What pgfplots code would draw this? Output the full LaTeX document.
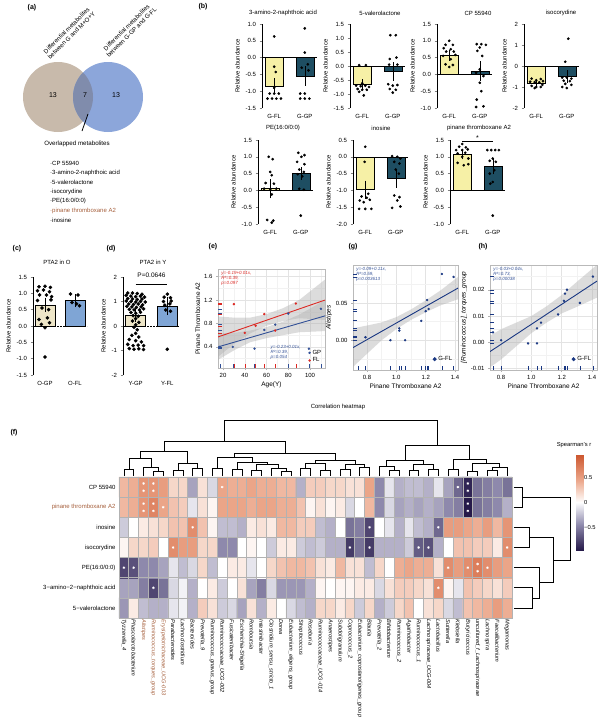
\documentclass[border=0pt]{standalone}
\usepackage{fontspec}
\setmainfont{Liberation Sans}
\usepackage{pgfplots}
\pgfplotsset{compat=1.18}
\definecolor{byel}{RGB}{246,240,166}
\definecolor{bteal}{RGB}{30,78,98}
\definecolor{cbeige}{RGB}{238,230,200}
\definecolor{cblue}{RGB}{127,165,213}
\definecolor{vtan}{RGB}{200,186,171}
\definecolor{vblue}{RGB}{140,166,218}
\definecolor{vmid}{RGB}{128,140,172}
\definecolor{brn}{RGB}{165,95,60}
\definecolor{ered}{RGB}{220,40,35}
\definecolor{eblue}{RGB}{50,80,150}
\definecolor{gnavy}{RGB}{25,55,130}
\tikzset{ann/.style={font=\fontsize{4.5}{5.2}\selectfont\itshape, align=left, inner sep=0pt}}
\pgfplotsset{
 colormap={spear}{rgb255(0cm)=(38,26,74); rgb255(5cm)=(142,137,172); rgb255(9.5cm)=(255,255,255); rgb255(13.8cm)=(236,168,140); rgb255(18.9cm)=(205,88,48)},
 /pgf/number format/assume math mode=true,
 every axis/.append style={font=\fontsize{6}{7}\selectfont},
 f1/.style={/pgf/number format/fixed, /pgf/number format/fixed zerofill, /pgf/number format/precision=1},
 f2/.style={/pgf/number format/fixed, /pgf/number format/fixed zerofill, /pgf/number format/precision=2},
 f0/.style={/pgf/number format/fixed, /pgf/number format/precision=0},
 bbar/.style={scale only axis, width=55pt, height=84pt, xmin=-0.4, xmax=1.4,
   axis x line*=bottom, axis y line*=left, x axis line style={draw=none},
   y axis line style={line width=0.6pt},
   xtick={0,1}, major x tick style={draw=none},
   major y tick style={line width=0.5pt}, tick align=outside, major tick length=2.5pt,
   ylabel={Relative abundance}, ylabel style={yshift=-1pt},
   scaled y ticks=false, yticklabel style={/pgfplots/f1},
   clip=false},
 bfl/.style={ybar, bar width=18pt, fill=byel, draw=black, line width=0.5pt},
 bgp/.style={ybar, bar width=18pt, fill=bteal, draw=black, line width=0.5pt},
 zl/.style={black, line width=0.6pt, forget plot},
 eb/.style={draw=none, mark=none, forget plot, error bars/y dir=both, error bars/y explicit,
   error bars/error bar style={draw=black, line width=0.5pt},
   error bars/error mark options={draw=black, mark size=3pt, line width=0.5pt}},
 dt/.style={only marks, mark=*, mark size=1.15pt, black},
 gg/.style={scale only axis, grid=both, major grid style={gray!22, line width=0.5pt},
   minor grid style={gray!10, line width=0.35pt}, axis line style={gray!55, line width=0.6pt},
   tick style={gray!60, line width=0.4pt}, tick align=outside, major tick length=2pt,
   minor tick length=0pt, xtick pos=bottom, ytick pos=left,
   scaled x ticks=false, scaled y ticks=false,
   label style={font=\fontsize{6.5}{7.5}\selectfont}, xlabel style={yshift=3pt}, ylabel style={yshift=-3pt},
   legend style={draw=none, fill=none, font=\fontsize{6}{7}\selectfont, inner sep=0.5pt, row sep=-2pt},
   legend cell align=left},
 band/.style={fill=gray!60, fill opacity=0.45, draw=none, forget plot},
 dg/.style={black, line width=0.6pt, forget plot},
}
\begin{document}
\begin{tikzpicture}[x=1pt,y=-1pt,font=\fontsize{6}{7}\selectfont]
\path[use as bounding box] (0,0) rectangle (600,720);

%% ---------------- (a) Venn ----------------
\node[font=\bfseries\fontsize{7}{8}\selectfont] at (32,8) {(a)};
\fill[vtan] (58,97) circle[radius=35pt];
\fill[vblue] (108,97) circle[radius=35pt];
\begin{scope}
\clip (58,97) circle[radius=35pt];
\fill[vmid] (108,97) circle[radius=35pt];
\end{scope}
\node[font=\fontsize{7}{8}\selectfont] at (53,95) {13};
\node[font=\fontsize{7}{8}\selectfont] at (85,95) {7};
\node[font=\fontsize{7}{8}\selectfont] at (116,95) {13};
\node[rotate=45, align=center, font=\fontsize{6.1}{6.9}\selectfont, inner sep=0pt] at (69,33) {Differential metabolites\\between G and M+O+Y};
\node[rotate=45, align=center, font=\fontsize{6.1}{6.9}\selectfont, inner sep=0pt] at (129,30) {Differential metabolites\\between G-GP and G-FL};
\draw[line width=0.8pt] (88,114) -- (82,131);
\node[font=\fontsize{6.2}{7}\selectfont] at (77,144) {Overlapped metabolites};
\begin{scope}[every node/.style={anchor=west, font=\fontsize{6}{7}\selectfont, inner sep=0pt}]
\node at (50,163) {·CP 55940};
\node at (50,172.5) {·3-amino-2-naphthoic acid};
\node at (50,182) {·5-valerolactone};
\node at (50,191.5) {·isocorydine};
\node at (50,201) {·PE(16:0/0:0)};
\node[text=brn] at (50,210.5) {·pinane thromboxane A2};
\node at (50,220) {·inosine};
\end{scope}

%% ---------------- labels & titles ----------------
\begin{scope}[every node/.style={font=\bfseries\fontsize{7}{8}\selectfont}]
\node at (203,7) {(b)};
\node at (17,249) {(c)};
\node at (111,249) {(d)};
\node at (213,247) {(e)};
\node at (353,247) {(g)};
\node at (483,247) {(h)};
\node at (14,433) {(f)};
\end{scope}
\node at (283,13) {3-amino-2-naphthoic acid};
\node at (380,13) {5-valerolactone};
\node at (478,13) {CP 55940};
\node at (561,13) {isocorydine};
\node at (283,128) {PE(16:0/0:0)};
\node at (381,128) {inosine};
\node at (479,128) {pinane thromboxane A2};
\node at (57,262) {PTA2 in O};
\node at (153,262) {PTA2 in Y};
\node at (338,407) {Correlation heatmap};
\node[font=\fontsize{5.8}{6.5}\selectfont] at (574,445) {Spearman's r};

%% ---------------- (b) bar panels ----------------
\begin{axis}[bbar, at={(262pt,-24pt)}, anchor=north west, ymin=-1.5, ymax=1,
  ytick={-1.5,-1,-0.5,0,0.5,1}, xticklabels={G-FL,G-GP}]
\addplot[bfl] coordinates {(0,-0.85)};
\addplot[bgp] coordinates {(1,-0.55)};
\addplot[zl] coordinates {(-0.4,0) (1.4,0)};
\addplot[eb] coordinates {(0,-0.85) +- (0,0.15) (1,-0.55) +- (0,0.2)};
\addplot[dt] coordinates {(0,0.63) (0,-0.27) (0.05,-0.43) (-0.15,-1.07) (0,-1.07) (0.15,-1.07) (-0.22,-1.22) (-0.07,-1.22) (0.07,-1.22) (0.22,-1.22) (0,-0.9)
 (1,0.87) (1,0.15) (1.1,-0.2) (0.9,-0.3) (1.12,-0.38) (0.85,-1.07) (1.0,-1.07) (0.85,-1.22) (1.0,-1.22) (1.15,-1.22)};
\end{axis}

\begin{axis}[bbar, at={(350pt,-24pt)}, anchor=north west, ymin=-1.5, ymax=1.5,
  ytick={-1.5,-1,-0.5,0,0.5,1,1.5}, xticklabels={G-FL,G-GP}]
\addplot[bfl] coordinates {(0,-0.65)};
\addplot[bgp] coordinates {(1,-0.2)};
\addplot[zl] coordinates {(-0.4,0) (1.4,0)};
\addplot[eb] coordinates {(0,-0.65) +- (0,0.07) (1,-0.2) +- (0,0.22)};
\addplot[dt] coordinates {(-0.1,0.03) (0.12,0.03) (0,-0.62) (-0.2,-0.7) (-0.05,-0.72) (0.1,-0.7) (0.22,-0.75) (-0.15,-0.82) (0,-0.85) (0.15,-0.85) (-0.1,-0.92) (0.05,-1.05)
 (0.92,1.1) (1.1,1.1) (0.9,0.25) (1.12,0.3) (0.88,0.05) (1.15,0.05) (0.85,-0.65) (1.0,-0.7) (1.15,-0.68) (0.9,-0.82) (1.1,-0.85) (1.0,-0.95)};
\end{axis}

\begin{axis}[bbar, at={(437pt,-24pt)}, anchor=north west, ymin=-1, ymax=1.5,
  ytick={-1,-0.5,0,0.5,1,1.5}, xticklabels={G-FL,G-GP}]
\addplot[bfl] coordinates {(0,0.57)};
\addplot[bgp] coordinates {(1,0.1)};
\addplot[zl] coordinates {(-0.4,0) (1.4,0)};
\addplot[eb] coordinates {(0,0.57) +- (0,0.07) (1,0.1) +- (0,0.2)};
\addplot[dt] coordinates {(0,1.0) (-0.12,0.88) (0.12,0.88) (-0.18,0.78) (0.05,0.75) (-0.1,0.68) (0.15,0.68) (0.2,0.58) (-0.2,0.55) (0.05,0.45) (-0.12,0.3) (0.12,0.28) (0,0.22)
 (0.9,0.9) (1.05,0.9) (1.2,0.88) (1.0,0.8) (0.92,0.7) (1.08,0.55) (1.0,0.15) (0.88,0.05) (1.12,-0.05) (1.0,-0.25) (1.05,-0.5) (0.9,-0.75) (0.88,-0.97) (1.12,-0.95)};
\end{axis}

\begin{axis}[bbar, at={(524pt,-24pt)}, anchor=north west, ymin=-2, ymax=2,
  ytick={-2,-1,0,1,2}, yticklabel style={/pgfplots/f0}, xticklabels={G-FL,G-GP}]
\addplot[bfl] coordinates {(0,-0.8)};
\addplot[bgp] coordinates {(1,-0.5)};
\addplot[zl] coordinates {(-0.4,0) (1.4,0)};
\addplot[eb] coordinates {(0,-0.8) +- (0,0.05) (1,-0.5) +- (0,0.15)};
\addplot[dt] coordinates {(-0.15,-0.6) (0.15,-0.62) (0,-0.68) (-0.2,-0.75) (-0.05,-0.77) (0.1,-0.78) (0.22,-0.72) (-0.15,-0.95) (0,-1.0) (0.15,-1.0) (-0.05,-1.05) (0.2,-0.9)
 (1.05,1.3) (0.95,0.2) (0.85,-0.55) (1.0,-0.55) (1.15,-0.6) (0.9,-0.7) (1.1,-0.72) (0.95,-0.85) (1.15,-0.9) (0.85,-1.0) (1.0,-1.05)};
\end{axis}

\begin{axis}[bbar, at={(258pt,-140pt)}, anchor=north west, ymin=-1, ymax=1.5,
  ytick={-1,-0.5,0,0.5,1,1.5}, xticklabels={G-FL,G-GP}]
\addplot[bfl] coordinates {(0,0.05)};
\addplot[bgp] coordinates {(1,0.5)};
\addplot[zl] coordinates {(-0.4,0) (1.4,0)};
\addplot[eb] coordinates {(0,0.05) +- (0,0.2) (1,0.5) +- (0,0.1)};
\addplot[dt] coordinates {(-0.05,1.0) (0.08,0.93) (0,0.55) (0.05,0.45) (-0.15,0.22) (0.12,0.2) (-0.2,0.05) (0.2,0.05) (0,0.02) (0.05,-0.12) (-0.1,-0.88) (0.1,-0.9) (0.05,-0.96)
 (0.92,1.12) (1.12,1.05) (1.02,1.0) (0.88,0.85) (1.12,0.78) (0.95,0.62) (1.1,0.55) (0.9,0.48) (1.05,0.42) (0.95,0.05) (1.1,0.02) (1.0,-0.75)};
\end{axis}

\begin{axis}[bbar, at={(353pt,-140pt)}, anchor=north west, ymin=-2, ymax=0.5,
  ytick={-2,-1.5,-1,-0.5,0,0.5}, xticklabels={G-FL,G-GP}]
\addplot[bfl] coordinates {(0,-0.98)};
\addplot[bgp] coordinates {(1,-0.65)};
\addplot[zl] coordinates {(-0.4,0) (1.4,0)};
\addplot[eb] coordinates {(0,-0.98) +- (0,0.18) (1,-0.65) +- (0,0.18)};
\addplot[dt] coordinates {(0,0.3) (-0.02,-0.15) (0.1,-1.1) (-0.12,-1.18) (0.05,-1.22) (-0.18,-1.3) (0.15,-1.28) (-0.05,-1.35) (-0.2,-1.55) (0,-1.55) (0.2,-1.55)
 (0.88,0.02) (1.05,0.0) (1.15,-0.05) (0.95,-0.15) (1.12,-0.2) (1.0,-0.38) (1.1,-0.5) (0.95,-1.15) (1.12,-1.2) (1.05,-1.3) (0.88,-1.52) (1.15,-1.48)};
\end{axis}

\begin{axis}[bbar, at={(450pt,-140pt)}, anchor=north west, ymin=-1, ymax=1.5,
  ytick={-1,-0.5,0,0.5,1,1.5}, xticklabels={G-FL,G-GP}]
\addplot[bfl] coordinates {(0,1.08)};
\addplot[bgp] coordinates {(1,0.72)};
\addplot[zl] coordinates {(-0.4,0) (1.4,0)};
\addplot[eb] coordinates {(0,1.08) +- (0,0.07) (1,0.72) +- (0,0.15)};
\addplot[dt] coordinates {(0,1.38) (-0.1,1.3) (0.12,1.28) (-0.2,1.2) (0,1.2) (0.18,1.22) (-0.15,1.1) (0.1,1.12) (0,1.0) (0.2,0.95) (-0.15,0.82) (0.05,0.75) (0.2,0.78)
 (0.82,1.2) (0.95,1.2) (1.08,1.2) (1.2,1.2) (1.0,0.95) (0.9,0.88) (1.1,0.85) (1.05,0.6) (0.9,0.5) (1.0,0.25) (0.92,0.2) (1.0,-0.75)};
\addplot[black, line width=0.5pt, forget plot] coordinates {(0,1.46) (1,1.46)};
\node[font=\fontsize{7}{8}\selectfont, inner sep=0pt] at (axis cs:0.5,1.56) {*};
\end{axis}

%% ---------------- (c) ----------------
\begin{axis}[bbar, at={(33pt,-277pt)}, anchor=north west, width=54pt, height=98pt, ymin=-1.5, ymax=1.5,
  ytick={-1.5,-1,-0.5,0,0.5,1,1.5}, xticklabels={O-GP,O-FL}]
\addplot[ybar, bar width=20pt, fill=cbeige, draw=black, line width=0.5pt] coordinates {(0,0.65)};
\addplot[ybar, bar width=20pt, fill=cblue, draw=black, line width=0.5pt] coordinates {(1,0.78)};
\addplot[black, line width=0.6pt, dash pattern=on 1.5pt off 1.5pt, forget plot] coordinates {(-0.4,0) (1.4,0)};
\addplot[eb] coordinates {(0,0.65) +- (0,0.13) (1,0.78) +- (0,0.11)};
\addplot[dt, mark size=1.6pt] coordinates {(-0.2,1.2) (0.0,1.22) (0.18,1.18) (-0.25,1.08) (-0.05,1.1) (0.15,1.05) (-0.18,0.95) (0.05,0.95) (0.22,0.9) (-0.25,0.78) (0.2,0.8) (-0.1,0.55) (0.12,0.5) (-0.2,0.2) (0.08,0.25) (-0.12,0.05) (0.15,0.1) (0,-0.05) (0,-0.95)
 (0.85,0.98) (1.1,0.95) (0.9,0.72) (1.05,0.68) (1.15,0.62)};
\end{axis}

%% ---------------- (d) ----------------
\begin{axis}[bbar, at={(123pt,-277pt)}, anchor=north west, width=57pt, height=98pt, ymin=-2, ymax=2,
  ytick={-2,-1,0,1,2}, yticklabel style={/pgfplots/f0}, xticklabels={Y-GP,Y-FL}]
\addplot[ybar, bar width=20pt, fill=cbeige, draw=black, line width=0.5pt] coordinates {(0,0.45)};
\addplot[ybar, bar width=20pt, fill=cblue, draw=black, line width=0.5pt] coordinates {(1,0.82)};
\addplot[black, line width=0.6pt, dash pattern=on 1.5pt off 1.5pt, forget plot] coordinates {(-0.4,0) (1.4,0)};
\addplot[dt, mark size=1.6pt] coordinates {(-0.25,1.35) (-0.1,1.35) (0.05,1.33) (0.2,1.3)
 (-0.3,1.25) (-0.15,1.22) (0,1.2) (0.15,1.22) (0.28,1.18)
 (-0.25,1.12) (-0.1,1.1) (0.05,1.08) (0.2,1.1)
 (-0.3,1.02) (-0.15,1.0) (0,0.98) (0.15,1.0) (0.3,0.98)
 (-0.22,0.9) (-0.07,0.88) (0.08,0.9) (0.22,0.86)
 (-0.28,0.8) (-0.12,0.78) (0.02,0.76) (0.17,0.78)
 (-0.2,0.68) (-0.05,0.66) (0.12,0.65) (0.25,0.7)
 (-0.15,0.55) (0.0,0.52) (0.15,0.56) (-0.08,0.42) (0.08,0.4)
 (0,0.3) (-0.1,0.2) (0.1,0.15) (0,0.05) (-0.05,-0.05) (0.05,-0.15)
 (0,-0.3) (-0.12,-0.38) (0.1,-0.45) (-0.2,-0.55) (0,-0.6) (0.18,-0.65)
 (-0.25,-0.75) (-0.08,-0.8) (0.08,-0.78) (0.25,-0.8)
 (-0.2,-0.92) (-0.05,-0.95) (0.1,-0.93) (0.25,-0.96)
 (1,1.3) (0.9,1.18) (1.1,1.15) (0.88,1.0) (1.12,1.02) (0.92,0.85) (1.08,0.9) (0.95,0.65) (1.1,0.6) (1,-0.95)};
\addplot[eb] coordinates {(0,0.45) +- (0,0.15) (1,0.82) +- (0,0.25)};
\addplot[black, line width=0.5pt, forget plot] coordinates {(0,1.71) (1,1.71)};
\node[font=\fontsize{6.5}{7}\selectfont, anchor=south, inner sep=0.5pt] at (axis cs:0.5,1.93) {P=0.0646};
\end{axis}

%% ---------------- (e) ----------------
\begin{axis}[gg, at={(218pt,-269pt)}, anchor=north west, width=107pt, height=99pt,
  xmin=15.4, xmax=113.8, ymin=0.04, ymax=1.73,
  xtick={20,40,60,80,100}, minor xtick={30,50,70,90,110},
  ytick={0.4,0.8,1.2,1.6}, minor ytick={0.2,0.6,1.0,1.4},
  yticklabel style={/pgfplots/f1},
  xlabel={Age(Y)}, ylabel={Pinane Thromboxane A2},
  legend style={at={(0.99,0.02)}, anchor=south east}]
\addplot[band] coordinates {(15.4,0.92) (30,0.9) (45,0.9) (60,0.96) (75,1.06) (90,1.2) (113.8,1.55) (113.8,0.86) (90,0.89) (75,0.84) (60,0.76) (45,0.63) (30,0.45) (15.4,0.23)} -- cycle;
\addplot[band] coordinates {(15.4,0.63) (30,0.64) (45,0.68) (60,0.74) (75,0.83) (90,0.95) (113.8,1.2) (113.8,0.67) (90,0.65) (75,0.6) (60,0.55) (45,0.48) (30,0.34) (15.4,0.18)} -- cycle;
\addplot[ered, line width=0.9pt, forget plot] coordinates {(15.4,0.57) (113.8,1.2)};
\addplot[eblue, line width=0.9pt, forget plot] coordinates {(15.4,0.4) (113.8,0.93)};
\addplot[only marks, mark=|, mark size=2pt, ered, mark options={yshift=2pt}, forget plot] coordinates {(30,0.04) (40,0.04) (50,0.04) (58,0.04) (68,0.04) (87,0.04)};
\addplot[only marks, mark=|, mark size=2pt, eblue, mark options={yshift=2pt}, forget plot] coordinates {(17,0.04) (29,0.04) (49,0.04) (80,0.04) (99,0.04) (110,0.04)};
\addplot[only marks, mark=-, mark size=2pt, ered, mark options={xshift=2pt}, forget plot] coordinates {(15.4,1.13) (15.4,0.64) (15.4,0.76) (15.4,0.96) (15.4,0.68) (15.4,1.14)};
\addplot[only marks, mark=-, mark size=2pt, eblue, mark options={xshift=2pt}, forget plot] coordinates {(15.4,0.4) (15.4,0.37) (15.4,0.69) (15.4,0.78) (15.4,0.97) (15.4,1.05)};
\addplot[only marks, mark=*, mark size=1pt, eblue] coordinates {(17,0.4) (29,0.4) (49,0.37) (58,0.69) (68,0.78) (80,0.97) (99,0.37) (110,1.05)};
\addlegendentry{GP}
\addplot[only marks, mark=*, mark size=1pt, ered] coordinates {(30,1.13) (40,0.64) (50,0.76) (58,0.96) (68,0.68) (87,1.14)};
\addlegendentry{FL}
\node[ann, text=ered, anchor=north west] at (rel axis cs:0.03,0.98) {y=-0.19+0.01x,\\R²=0.39,\\p=0.097};
\node[ann, text=eblue, anchor=north west] at (rel axis cs:0.49,0.23) {y=-0.23+0.01x,\\R²=0.39,\\p=0.054};
\end{axis}

%% ---------------- (g) ----------------
\begin{axis}[gg, at={(353pt,-265pt)}, anchor=north west, width=105pt, height=105pt,
  xmin=0.705, xmax=1.42, ymin=-0.04, ymax=0.101,
  xtick={0.8,1.0,1.2,1.4}, minor xtick={0.7,0.9,1.1,1.3},
  ytick={0,0.05}, minor ytick={-0.025,0.025,0.075},
  xticklabel style={/pgfplots/f1}, yticklabel style={/pgfplots/f2},
  xlabel={Pinane Thromboxane A2}, ylabel={\itshape Alistipes},
  legend style={at={(0.97,0.05)}, anchor=south east}, legend image post style={mark size=1.8pt}]
\addplot[band] coordinates {(0.705,0.016) (0.8,0.0197) (0.9,0.0239) (1.0,0.031) (1.1,0.0413) (1.2,0.0535) (1.3,0.0667) (1.42,0.085) (1.42,0.055) (1.3,0.0467) (1.2,0.0375) (1.1,0.0273) (1.0,0.015) (0.9,-0.0001) (0.8,-0.0183) (0.705,-0.0359)} -- cycle;
\addplot[gnavy, line width=0.9pt, forget plot] coordinates {(0.705,-0.0099) (1.42,0.070)};
\addplot[only marks, mark=|, mark size=2pt, gnavy, mark options={yshift=2pt}, forget plot] coordinates {(0.79,-0.04) (0.96,-0.04) (1.02,-0.04) (1.03,-0.04) (1.06,-0.04) (1.17,-0.04) (1.20,-0.04) (1.21,-0.04) (1.22,-0.04) (1.31,-0.04) (1.39,-0.04) (0.74,-0.04)};
\addplot[only marks, mark=-, mark size=2pt, gnavy, mark options={xshift=2pt}, forget plot] coordinates {(0.705,0.004) (0.705,0.0) (0.705,0.016) (0.705,0.013) (0.705,0.027) (0.705,0.039) (0.705,0.054) (0.705,0.042) (0.705,0.089) (0.705,0.085) (0.705,0.006)};
\addplot[only marks, mark=*, mark size=1pt, gnavy] coordinates {(0.79,0.004) (0.96,0.0) (1.02,0.016) (1.02,0.013) (1.06,0.0) (1.17,0.026) (1.20,0.039) (1.21,0.054) (1.22,0.042) (1.31,0.089) (1.39,0.085)};
\addlegendentry{G-FL}
\node[ann, text=eblue, anchor=north west] at (rel axis cs:0.03,0.98) {y=-0.09+0.11x,\\R²=0.59,\\p=0.003613};
\end{axis}

%% ---------------- (h) ----------------
\begin{axis}[gg, at={(490pt,-265pt)}, anchor=north west, width=107pt, height=105pt,
  xmin=0.727, xmax=1.433, ymin=-0.0105, ymax=0.0294,
  xtick={0.8,1.0,1.2,1.4}, minor xtick={0.9,1.1,1.3},
  ytick={-0.01,0,0.01,0.02}, minor ytick={-0.005,0.005,0.015,0.025},
  xticklabel style={/pgfplots/f1}, yticklabel style={/pgfplots/f2},
  xlabel={Pinane Thromboxane A2}, ylabel={\itshape [Ruminococcus]\_torques\_group},
  legend style={at={(0.97,0.05)}, anchor=south east}, legend image post style={mark size=1.8pt}]
\addplot[band] coordinates {(0.727,0.0025) (0.8,0.005) (0.9,0.0075) (1.0,0.01) (1.1,0.0137) (1.2,0.018) (1.3,0.023) (1.433,0.0295) (1.433,0.017) (1.3,0.0135) (1.2,0.011) (1.1,0.0075) (1.0,0.0035) (0.9,-0.0015) (0.8,-0.0065) (0.727,-0.0095)} -- cycle;
\addplot[gnavy, line width=0.9pt, forget plot] coordinates {(0.727,-0.0035) (1.433,0.0233)};
\addplot[only marks, mark=|, mark size=2pt, gnavy, mark options={yshift=2pt}, forget plot] coordinates {(0.747,-0.0105) (0.8,-0.0105) (0.978,-0.0105) (1.037,-0.0105) (1.064,-0.0105) (1.176,-0.0105) (1.215,-0.0105) (1.222,-0.0105) (1.235,-0.0105) (1.32,-0.0105) (1.406,-0.0105)};
\addplot[only marks, mark=-, mark size=2pt, gnavy, mark options={xshift=2pt}, forget plot] coordinates {(0.727,0.0038) (0.727,0.0008) (0.727,-0.0004) (0.727,0.0053) (0.727,0.0075) (0.727,0.0106) (0.727,0.0158) (0.727,0.0185) (0.727,0.02) (0.727,0.015) (0.727,0.025)};
\addplot[only marks, mark=*, mark size=1pt, gnavy] coordinates {(0.747,0.0038) (0.8,0.0008) (0.978,-0.0004) (1.037,0.0053) (1.037,-0.0004) (1.064,0.0075) (1.176,0.0106) (1.215,0.0158) (1.222,0.0185) (1.235,0.02) (1.32,0.015) (1.406,0.025)};
\addlegendentry{G-FL}
\node[ann, text=eblue, anchor=north west] at (rel axis cs:0.03,0.98) {y=-0.03+0.04x,\\R²=0.73,\\p=0.00038};
\end{axis}

%% ---------------- (f) heatmap ----------------
\begin{axis}[at={(119pt,-477pt)}, anchor=north west, scale only axis, width=393pt, height=141pt,
  xmin=0.5, xmax=40.5, ymin=0.5, ymax=7.5, enlargelimits=false, clip=false,
  axis on top, axis line style={gray!60, line width=0.7pt},
  xtick={1,...,40}, ytick={1,...,7}, major tick length=0pt, tick style={draw=none},
  xtick pos=bottom, ytick pos=left,
  minor xtick={0.5,1.5,...,40.5}, minor ytick={0.5,1.5,...,7.5}, minor tick length=0pt,
  xminorgrids, yminorgrids, minor grid style={gray!60, line width=0.7pt},
  xticklabel style={rotate=-90, anchor=west, font=\fontsize{5.6}{6}\selectfont\itshape, inner sep=1.5pt},
  yticklabel style={font=\fontsize{6}{7}\selectfont},
  xticklabels={Tyzzerella\_4, Phascolarctobacterium, \textcolor{brn}{Alistipes}, \textcolor{brn}{Ruminococcus\_torques\_group}, \textcolor{brn}{Erysipelotrichaceae\_UCG-003}, Parabacteroides, Lachnoclostridium, Bacteroides, Prevotella\_9, Ruminococcus\_gnavus\_group, Ruminococcaceae\_UCG-002, Fusicatenibacter, Escherichia-Shigella, Romboutsia, Intestinibacter, Clostridium\_sensu\_stricto\_1, Dorea, Eubacterium\_eligens\_group, Streptococcus, Roseburia, Ruminococcaceae\_UCG-014, Anaerostipes, Subdoligranulum, Coprococcus\_2, Eubacterium\_coprostanoligenes\_group, Blautia, Prevotella\_2, Bifidobacterium, Ruminococcus\_2, Agathobacter, Ruminococcus\_1, Lachnospiraceae\_UCG-004, Lactobacillus, Sutterella, Klebsiella, Butyricicoccus, uncultured\_f\_Lachnospiraceae, Lachnospira, Faecalibacterium, Megamonas},
  yticklabels={5−valerolactone, 3−amino−2−naphthoic acid, PE(16:0/0:0), isocorydine, inosine, \textcolor{brn}{pinane thromboxane A2}, CP 55940},
  point meta min=-0.95, point meta max=0.94]
\addplot[matrix plot*, mesh/cols=40, point meta=explicit, forget plot] table[row sep=\\, meta=c] {
x y c\\
1 1 -0.4\\2 1 0.1\\3 1 -0.25\\4 1 -0.3\\5 1 -0.3\\6 1 -0.1\\7 1 -0.05\\8 1 -0.3\\9 1 0.25\\10 1 0.15\\
11 1 -0.2\\12 1 -0.15\\13 1 -0.35\\14 1 0.15\\15 1 -0.3\\16 1 0.1\\17 1 0\\18 1 -0.15\\19 1 -0.25\\20 1 -0.3\\
21 1 0.2\\22 1 0.2\\23 1 0.1\\24 1 0.2\\25 1 -0.2\\26 1 0.2\\27 1 -0.3\\28 1 -0.2\\29 1 0.2\\30 1 0.3\\
31 1 0\\32 1 0.15\\33 1 0.2\\34 1 -0.15\\35 1 -0.25\\36 1 0.3\\37 1 0.35\\38 1 0.4\\39 1 0.5\\40 1 0.4\\
1 2 -0.35\\2 2 -0.35\\3 2 -0.5\\4 2 -0.75\\5 2 -0.55\\6 2 -0.15\\7 2 -0.05\\8 2 -0.3\\9 2 0\\10 2 0.1\\
11 2 -0.2\\12 2 0\\13 2 0.15\\14 2 -0.35\\15 2 -0.5\\16 2 -0.15\\17 2 -0.4\\18 2 -0.4\\19 2 -0.4\\20 2 -0.3\\
21 2 0.05\\22 2 0\\23 2 0.05\\24 2 0.05\\25 2 0.1\\26 2 0.1\\27 2 -0.15\\28 2 0.15\\29 2 0.25\\30 2 0.25\\
31 2 0.2\\32 2 0.15\\33 2 0.6\\34 2 0.05\\35 2 -0.1\\36 2 0.3\\37 2 0.25\\38 2 0.2\\39 2 0.15\\40 2 0.25\\
1 3 -0.75\\2 3 -0.7\\3 3 -0.45\\4 3 -0.45\\5 3 -0.35\\6 3 -0.1\\7 3 -0.25\\8 3 -0.15\\9 3 0.2\\10 3 -0.25\\
11 3 0\\12 3 0.1\\13 3 0.1\\14 3 -0.1\\15 3 0\\16 3 0.2\\17 3 0.3\\18 3 0.35\\19 3 0.35\\20 3 0.3\\
21 3 0.15\\22 3 0.1\\23 3 0.35\\24 3 0.15\\25 3 0.15\\26 3 -0.25\\27 3 0.2\\28 3 0\\29 3 0.4\\30 3 0.45\\
31 3 0.4\\32 3 0.4\\33 3 0.15\\34 3 0.6\\35 3 0.5\\36 3 0.6\\37 3 0.7\\38 3 0.6\\39 3 0.5\\40 3 0.45\\
1 4 0.05\\2 4 0.2\\3 4 0.2\\4 4 0.25\\5 4 0\\6 4 0.6\\7 4 0.5\\8 4 0.5\\9 4 0.2\\10 4 0.2\\
11 4 -0.45\\12 4 -0.45\\13 4 0\\14 4 0.05\\15 4 0\\16 4 -0.2\\17 4 0.1\\18 4 0.1\\19 4 -0.2\\20 4 -0.25\\
21 4 -0.2\\22 4 -0.3\\23 4 -0.3\\24 4 -0.8\\25 4 -0.55\\26 4 -0.8\\27 4 -0.3\\28 4 -0.3\\29 4 -0.3\\30 4 -0.2\\
31 4 -0.65\\32 4 -0.7\\33 4 -0.3\\34 4 0\\35 4 0.3\\36 4 0.3\\37 4 0.25\\38 4 0.25\\39 4 0.1\\40 4 0.6\\
1 5 -0.2\\2 5 0\\3 5 0.1\\4 5 0.15\\5 5 0.2\\6 5 0.3\\7 5 0.3\\8 5 0.6\\9 5 0.3\\10 5 0.05\\
11 5 -0.25\\12 5 -0.25\\13 5 -0.3\\14 5 0.1\\15 5 0.15\\16 5 0.1\\17 5 0.35\\18 5 0.35\\19 5 0.25\\20 5 0.25\\
21 5 -0.25\\22 5 -0.3\\23 5 0\\24 5 -0.55\\25 5 -0.5\\26 5 -0.75\\27 5 0\\28 5 -0.1\\29 5 -0.3\\30 5 -0.1\\
31 5 -0.25\\32 5 -0.3\\33 5 -0.6\\34 5 0.5\\35 5 0.5\\36 5 0.45\\37 5 0.4\\38 5 0.5\\39 5 0.35\\40 5 0.55\\
1 6 0.35\\2 6 0.4\\3 6 0.55\\4 6 0.65\\5 6 0.45\\6 6 0.3\\7 6 0.25\\8 6 -0.1\\9 6 0.15\\10 6 0.05\\
11 6 0.45\\12 6 0.45\\13 6 0.45\\14 6 0.4\\15 6 0.45\\16 6 0.45\\17 6 0.4\\18 6 0.4\\19 6 0.3\\20 6 0.05\\
21 6 0.15\\22 6 0.05\\23 6 0.1\\24 6 -0.15\\25 6 0\\26 6 0.35\\27 6 -0.45\\28 6 -0.15\\29 6 -0.35\\30 6 -0.3\\
31 6 -0.35\\32 6 -0.3\\33 6 -0.35\\34 6 -0.45\\35 6 -0.5\\36 6 -0.95\\37 6 -0.55\\38 6 -0.5\\39 6 -0.45\\40 6 -0.3\\
1 7 0.35\\2 7 0.4\\3 7 0.55\\4 7 0.55\\5 7 0.5\\6 7 0.2\\7 7 0.2\\8 7 -0.35\\9 7 0.15\\10 7 -0.15\\
11 7 0.45\\12 7 0.4\\13 7 0.4\\14 7 0.45\\15 7 0.4\\16 7 0.4\\17 7 0.35\\18 7 0.35\\19 7 -0.3\\20 7 0.25\\
21 7 0.25\\22 7 0.2\\23 7 0.2\\24 7 0.15\\25 7 0.15\\26 7 0.45\\27 7 -0.45\\28 7 -0.1\\29 7 -0.3\\30 7 -0.25\\
31 7 -0.25\\32 7 -0.3\\33 7 -0.1\\34 7 -0.35\\35 7 -0.6\\36 7 -0.9\\37 7 -0.55\\38 7 -0.5\\39 7 -0.45\\40 7 -0.55\\
};
\addplot[only marks, mark=asterisk, mark size=1.3pt, white, line width=0.5pt, forget plot] coordinates {
(11,7) (35,7) (5,6) (8,5) (26,5) (33,5) (6,4) (24,4) (26,4) (31,4) (32,4) (40,4) (1,3) (2,3) (34,3) (36,3) (38,3) (4,2) (33,2)
(3,7.18) (3,6.82) (4,7.18) (4,6.82) (36,7.18) (36,6.82) (3,6.18) (3,5.82) (4,6.18) (4,5.82) (36,6.18) (36,5.82) (37,3.18) (37,2.82)};
\addplot[black, line width=0.6pt, unbounded coords=jump, forget plot] coordinates {
(1,7.55)(1,7.88)(2,7.88)(2,7.55) (0,inf)
(4,7.55)(4,7.77)(5,7.77)(5,7.55) (0,inf)
(3,7.55)(3,7.99)(4.5,7.99)(4.5,7.77) (0,inf)
(1.5,7.88)(1.5,8.44)(3.75,8.44)(3.75,7.99) (0,inf)
(6,7.55)(6,7.83)(7,7.83)(7,7.55) (0,inf)
(8,7.55)(8,7.94)(9,7.94)(9,7.55) (0,inf)
(6.5,7.83)(6.5,8.16)(8.5,8.16)(8.5,7.94) (0,inf)
(2.625,8.44)(2.625,8.8)(7.5,8.8)(7.5,8.16) (0,inf)
(10,7.55)(10,7.94)(11,7.94)(11,7.55) (0,inf)
(12,7.55)(12,7.88)(13,7.88)(13,7.55) (0,inf)
(14,7.55)(14,7.83)(15,7.83)(15,7.55) (0,inf)
(17,7.55)(17,7.77)(18,7.77)(18,7.55) (0,inf)
(16,7.55)(16,7.91)(17.5,7.91)(17.5,7.77) (0,inf)
(14.5,7.83)(14.5,8.11)(16.75,8.11)(16.75,7.91) (0,inf)
(12.5,7.88)(12.5,8.25)(15.625,8.25)(15.625,8.11) (0,inf)
(10.5,7.94)(10.5,8.47)(14.06,8.47)(14.06,8.25) (0,inf)
(19,7.55)(19,7.91)(20,7.91)(20,7.55) (0,inf)
(21,7.55)(21,7.83)(22,7.83)(22,7.55) (0,inf)
(19.5,7.91)(19.5,8.16)(21.5,8.16)(21.5,7.83) (0,inf)
(23,7.55)(23,7.86)(24,7.86)(24,7.55) (0,inf)
(25,7.55)(25,7.97)(26,7.97)(26,7.55) (0,inf)
(23.5,7.86)(23.5,8.11)(25.5,8.11)(25.5,7.97) (0,inf)
(20.5,8.16)(20.5,8.33)(24.5,8.33)(24.5,8.11) (0,inf)
(12.28,8.47)(12.28,8.66)(22.5,8.66)(22.5,8.33) (0,inf)
(5.06,8.8)(5.06,9.27)(17.39,9.27)(17.39,8.66) (0,inf)
(28,7.55)(28,7.83)(29,7.83)(29,7.55) (0,inf)
(27,7.55)(27,8.05)(28.5,8.05)(28.5,7.83) (0,inf)
(30,7.55)(30,7.83)(31,7.83)(31,7.55) (0,inf)
(32,7.55)(32,7.88)(33,7.88)(33,7.55) (0,inf)
(30.5,7.83)(30.5,8.11)(32.5,8.11)(32.5,7.88) (0,inf)
(27.75,8.05)(27.75,8.33)(31.5,8.33)(31.5,8.11) (0,inf)
(34,7.55)(34,7.88)(35,7.88)(35,7.55) (0,inf)
(36,7.55)(36,7.77)(37,7.77)(37,7.55) (0,inf)
(38,7.55)(38,7.83)(39,7.83)(39,7.55) (0,inf)
(38.5,7.83)(38.5,7.99)(40,7.99)(40,7.55) (0,inf)
(36.5,7.77)(36.5,8.16)(39.25,8.16)(39.25,7.99) (0,inf)
(34.5,7.88)(34.5,8.38)(37.875,8.38)(37.875,8.16) (0,inf)
(29.625,8.33)(29.625,9.08)(36.19,9.08)(36.19,8.38) (0,inf)
(11.23,9.27)(11.23,10.33)(32.9,10.33)(32.9,9.08)};
\end{axis}

%% ---------------- row dendrogram ----------------
\begin{axis}[at={(512pt,-477pt)}, anchor=north west, scale only axis, width=58pt, height=141pt,
  xmin=0, xmax=58, ymin=0.5, ymax=7.5, hide axis, clip=false]
\addplot[dg] coordinates {(2,7) (10,7) (10,6) (2,6)};
\addplot[dg] coordinates {(2,5) (17,5) (17,4) (2,4)};
\addplot[dg] coordinates {(2,2) (20,2) (20,1) (2,1)};
\addplot[dg] coordinates {(2,3) (27,3) (27,1.5) (20,1.5)};
\addplot[dg] coordinates {(17,4.5) (41,4.5) (41,2.25) (27,2.25)};
\addplot[dg] coordinates {(10,6.5) (58,6.5) (58,3.375) (41,3.375)};
\end{axis}

%% ---------------- colour key ----------------
\begin{axis}[at={(576pt,-455pt)}, anchor=north west, scale only axis, width=7pt, height=95pt,
  xmin=0, xmax=1, ymin=-0.95, ymax=0.94, enlargelimits=false, clip=true,
  axis line style={draw=none}, xtick=\empty, ytick={-0.5,0,0.5}, yticklabels={−0.5,0,0.5},
  ytick pos=right, yticklabel pos=right, major tick length=0pt, tick style={draw=none},
  yticklabel style={font=\fontsize{5.8}{6.5}\selectfont, inner sep=1pt},
  point meta min=-0.95, point meta max=0.94]
\addplot[patch, shader=interp, point meta=explicit] coordinates {
(0,-0.95) [-0.95] (1,-0.95) [-0.95] (1,0.94) [0.94]
(0,-0.95) [-0.95] (1,0.94) [0.94] (0,0.94) [0.94]};
\end{axis}
\end{tikzpicture}
\end{document}
